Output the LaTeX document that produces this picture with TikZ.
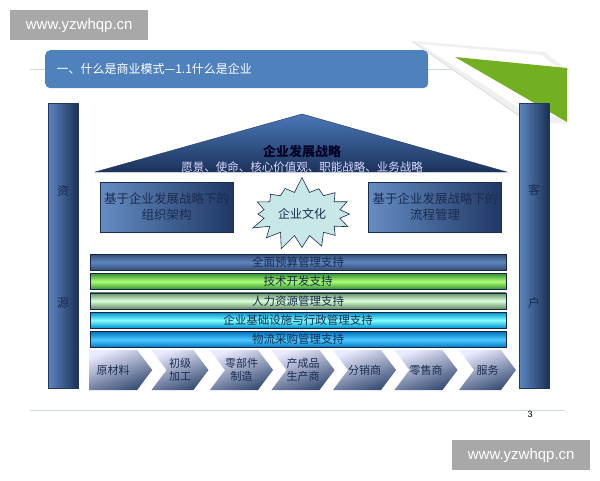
\documentclass[tikz,border=0pt]{standalone}
\usepackage{fontspec}
\setmainfont{Liberation Sans}
\newfontfamily\cjk{Noto Sans CJK SC}
\usetikzlibrary{shapes.symbols,positioning}

\definecolor{titleblue}{HTML}{4F81BD}
\definecolor{navy}{HTML}{1F3864}
\definecolor{midblue}{HTML}{4A78B8}
\definecolor{inkblue}{HTML}{1A2C50}
\definecolor{rulegray}{HTML}{C8DCDC}
\definecolor{markgray}{HTML}{A8A8A8}
\definecolor{leafgreen}{HTML}{72B021}
\definecolor{starfill}{HTML}{C8E8E8}

\tikzset{
  pillar/.style={draw=navy, line width=0.8pt, left color=midblue!90!white, right color=navy!85!black,
    minimum width=30pt, minimum height=285pt, inner sep=0pt},
  pillartxt/.style={font=\cjk\fontsize{12}{12}\selectfont, text=inkblue},
  stratbox/.style={draw=inkblue, line width=0.8pt, left color=midblue!85!white, right color=navy,
    minimum width=133pt, minimum height=50pt, inner sep=0pt, align=center, text=inkblue,
    font=\cjk\fontsize{12.5}{16}\selectfont},
  supbar/.style={draw=navy!70!black, line width=0.4pt, minimum width=416pt, minimum height=16pt,
    inner sep=0pt, font=\cjk\fontsize{11.5}{11.5}\selectfont},
  chev/.style={shape=signal, signal to=east, signal from=west, signal pointer angle=106,
    minimum width=57pt, minimum height=40pt, inner sep=0pt, align=center,
    top color=blue!8!white, bottom color=navy!90!white, shading angle=20,
    text=inkblue, font=\cjk\fontsize{11}{13}\selectfont},
  wmark/.style={fill=markgray, minimum width=138pt, minimum height=30pt, text=white,
    font=\fontsize{15}{15}\selectfont}
}

\begin{document}
\begin{tikzpicture}[x=1pt,y=-1pt]
  \useasboundingbox (0,0) rectangle (600,480);
  \fill[white] (0,0) rectangle (600,480);

  % page curl and rules
  \draw[rulegray, line width=1pt] (30,69) -- (568,69);
  \draw[rulegray, line width=1pt] (30,410) -- (565,410);
  \fill[gray!12] (411,41) -- (545,52) -- (567,70) -- (567,124) -- (524,120) -- cycle;
  \fill[white] (420,44) -- (541,55) -- (561,70) -- (561,117) -- (529,114) -- cycle;
  \draw[gray!30, line width=0.6pt] (413,42) -- (524,119);
  \fill[leafgreen] (455,57) -- (567,68) -- (567,122) -- cycle;

  % title
  \node[fill=titleblue, rounded corners=5pt, minimum width=383pt, minimum height=38pt,
    anchor=north west, inner sep=0pt] (title) at (45,50) {};
  \node[anchor=west, text=white, font=\cjk\fontsize{12}{12}\selectfont] (titletxt)
    at (53,69) {一、什么是商业模式—1.1什么是企业};

  % pillars
  \node[pillar, anchor=north west] (left) at (48,103) {};
  \node[pillar, anchor=north west] (right) at (519,103) {};
  \node[pillartxt] (zi) at (63,191) {资};
  \node[pillartxt] (yuan) at (63,303) {源};
  \node[pillartxt] (ke) at (534,190) {客};
  \node[pillartxt] (hu) at (534,303) {户};

  % roof
  \shade[top color=midblue, bottom color=navy!90!black, draw=navy]
    (95,172) -- (302,114) -- (507,172) -- cycle;
  \node[font=\cjk\bfseries\fontsize{13}{13}\selectfont, text=black!85!blue] (strategy) at (302,152) {企业发展战略};
  \node[font=\cjk\fontsize{11.5}{11.5}\selectfont, text=white!85!blue] (vision) at (302,167)
    {愿景、使命、核心价值观、职能战略、业务战略};

  % organisation, culture, process
  \node[stratbox] (org) at (166.5,207) {基于企业发展战略下的\\组织架构};
  \node[stratbox] (proc) at (435,207) {基于企业发展战略下的\\流程管理};
  \node[shape=starburst, starburst points=16, starburst point height=16pt, random starburst=7,
    fill=starfill, draw=inkblue, line width=0.6pt, minimum width=102pt, minimum height=76pt,
    text=inkblue, font=\cjk\fontsize{12}{12}\selectfont] (culture) at (302,214) {企业文化};

  % support bars
  \node[supbar, top color=navy!90!white, bottom color=navy!90!white, middle color=midblue!90!white,
    text=inkblue] (budget) at (298,262) {全面预算管理支持};
  \node[supbar, top color=green!45!black!80, bottom color=green!45!black!80, middle color=green!60!yellow!55!white,
    text=inkblue, below=3pt of budget] (tech) {技术开发支持};
  \node[supbar, top color=green!25!black!60, bottom color=green!25!black!60, middle color=green!15!white,
    text=inkblue, below=3pt of tech] (hr) {人力资源管理支持};
  \node[supbar, top color=cyan!70!blue!80!black, bottom color=cyan!70!blue!80!black, middle color=cyan!50!white,
    text=inkblue, below=3pt of hr] (infra) {企业基础设施与行政管理支持};
  \node[supbar, top color=cyan!60!blue!75!black, bottom color=cyan!60!blue!75!black, middle color=cyan!70!blue!70!white,
    text=inkblue, below=3pt of infra] (logis) {物流采购管理支持};

  % value chain
  \node[chev, signal from=nowhere, minimum width=63pt, anchor=west] (c0) at (89,370) {原材料};
  \foreach \lbl [count=\i] in {{初级\\加工}, {零部件\\制造}, {产成品\\生产商}, 分销商, 零售商, 服务} {
    \node[chev] (c\i) at (118.5+61.5*\i,370) {\lbl};
  }

  \node[font=\fontsize{9}{9}\selectfont] (page) at (530,414) {3};

  % watermarks
  \node[wmark, anchor=north west] (wm1) at (10,10) {www.yzwhqp.cn};
  \node[wmark, anchor=north west] (wm2) at (452,440) {www.yzwhqp.cn};
\end{tikzpicture}
\end{document}
